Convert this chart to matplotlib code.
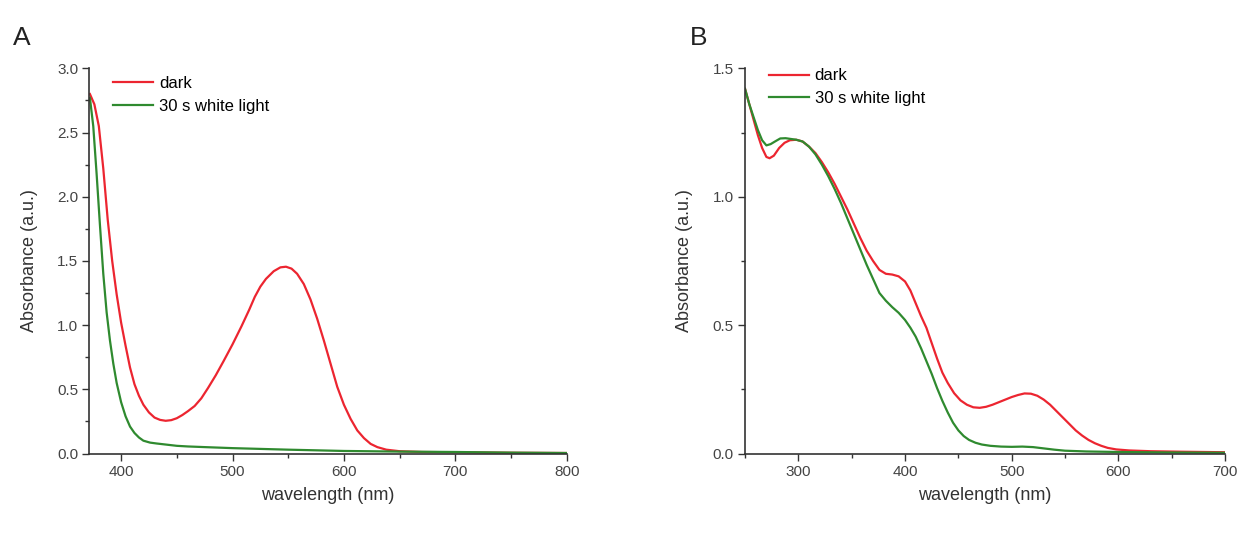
import numpy as np
import matplotlib.pyplot as plt
from matplotlib.ticker import MultipleLocator

plt.rcParams['font.family'] = ['Liberation Sans', 'DejaVu Sans']

# Panel A
wl_a_dark = [372, 376, 380, 384, 388, 392, 396, 400, 404, 408, 412, 416, 420, 425, 430,
             435, 440, 445, 450, 455, 460, 466, 472, 478, 485, 492, 500, 508, 515, 520,
             525, 530, 537, 543, 548, 553, 558, 564, 570, 576, 582, 588, 594, 600, 606,
             612, 618, 624, 630, 638, 650, 670, 700, 750, 800]
abs_a_dark = [2.80, 2.72, 2.55, 2.22, 1.82, 1.50, 1.24, 1.02, 0.84, 0.67, 0.54, 0.45,
              0.38, 0.32, 0.28, 0.262, 0.255, 0.26, 0.275, 0.30, 0.33, 0.37, 0.43, 0.51,
              0.61, 0.72, 0.85, 0.99, 1.12, 1.22, 1.30, 1.36, 1.42, 1.45, 1.455, 1.44,
              1.40, 1.32, 1.20, 1.05, 0.88, 0.70, 0.52, 0.38, 0.27, 0.18, 0.12, 0.075,
              0.05, 0.03, 0.018, 0.012, 0.01, 0.006, 0.004]
wl_a_light = [372, 375, 378, 381, 384, 387, 390, 393, 396, 400, 404, 408, 412, 416, 420,
              426, 432, 440, 450, 460, 475, 500, 525, 550, 575, 600, 650, 700, 750, 800]
abs_a_light = [2.77, 2.55, 2.18, 1.78, 1.40, 1.10, 0.88, 0.70, 0.55, 0.40, 0.29, 0.21,
               0.16, 0.125, 0.10, 0.085, 0.078, 0.07, 0.06, 0.055, 0.05, 0.042, 0.036,
               0.03, 0.025, 0.02, 0.015, 0.012, 0.007, 0.004]

# Panel B
wl_b_dark = [250, 254, 258, 262, 266, 270, 273, 277, 282, 287, 292, 298, 304, 310, 316,
             322, 328, 334, 340, 346, 352, 358, 364, 370, 376, 382, 388, 394, 400, 405,
             410, 415, 420, 425, 430, 435, 440, 446, 452, 458, 464, 470, 476, 482, 488,
             494, 500, 506, 512, 518, 524, 530, 536, 542, 548, 554, 560, 566, 572, 578,
             584, 590, 598, 610, 630, 660, 700]
abs_b_dark = [1.42, 1.36, 1.30, 1.24, 1.19, 1.155, 1.15, 1.16, 1.19, 1.21, 1.22, 1.222,
              1.215, 1.195, 1.17, 1.135, 1.095, 1.05, 1.0, 0.95, 0.895, 0.84, 0.79, 0.75,
              0.715, 0.70, 0.697, 0.69, 0.67, 0.635, 0.585, 0.535, 0.49, 0.43, 0.37,
              0.315, 0.275, 0.235, 0.207, 0.19, 0.18, 0.178, 0.182, 0.19, 0.20, 0.21,
              0.22, 0.228, 0.234, 0.233, 0.225, 0.21, 0.19, 0.165, 0.14, 0.115, 0.09,
              0.07, 0.053, 0.04, 0.03, 0.022, 0.016, 0.012, 0.009, 0.007, 0.005]
wl_b_light = [250, 254, 258, 262, 266, 270, 274, 278, 283, 288, 293, 298, 304, 310, 316,
              322, 328, 334, 340, 346, 352, 358, 364, 370, 376, 382, 388, 394, 400, 405,
              410, 415, 420, 425, 430, 435, 440, 445, 450, 455, 460, 466, 472, 480, 490,
              500, 510, 520, 530, 540, 550, 570, 600, 650, 700]
abs_b_light = [1.42, 1.36, 1.31, 1.26, 1.22, 1.20, 1.205, 1.215, 1.227, 1.228, 1.225,
               1.222, 1.215, 1.195, 1.165, 1.125, 1.08, 1.03, 0.975, 0.915, 0.855, 0.795,
               0.735, 0.68, 0.625, 0.595, 0.57, 0.548, 0.52, 0.49, 0.455, 0.41, 0.36,
               0.31, 0.255, 0.205, 0.16, 0.12, 0.09, 0.068, 0.053, 0.042, 0.035, 0.03,
               0.027, 0.026, 0.027, 0.025, 0.02, 0.015, 0.011, 0.008, 0.006, 0.004, 0.003]

red = '#ec2530'
green = '#2f8a2f'

fig = plt.figure(figsize=(12.48, 5.34), dpi=100)
ax_a = fig.add_axes([0.0716, 0.1507, 0.3825, 0.7213])
ax_b = fig.add_axes([0.5970, 0.1507, 0.3846, 0.7213])

panels = [
    (ax_a, wl_a_dark, abs_a_dark, wl_a_light, abs_a_light, (371.5, 800), (0, 3.0),
     'A', 13, (0.025, 1.01)),
    (ax_b, wl_b_dark, abs_b_dark, wl_b_light, abs_b_light, (250, 700), (0, 1.5),
     'B', 690, (0.025, 1.03)),
]

for ax, xd, yd, xl, yl, xlim, ylim, letter, lx, anchor in panels:
    ax.plot(xd, yd, color=red, lw=1.6, label='dark')
    ax.plot(xl, yl, color=green, lw=1.6, label='30 s white light')
    ax.set_xlim(*xlim)
    ax.set_ylim(*ylim)
    ax.xaxis.set_major_locator(MultipleLocator(100))
    ax.xaxis.set_minor_locator(MultipleLocator(50))
    ax.yaxis.set_major_locator(MultipleLocator(0.5))
    ax.yaxis.set_minor_locator(MultipleLocator(0.25))
    ax.yaxis.set_major_formatter(plt.FormatStrFormatter('%.1f'))
    for s in ['top', 'right']:
        ax.spines[s].set_visible(False)
    for s in ['left', 'bottom']:
        ax.spines[s].set_color('#333333')
        ax.spines[s].set_linewidth(1.2)
    ax.tick_params(which='major', direction='out', length=5, width=1, colors='#333333',
                   labelsize=11, labelcolor='#444444', pad=3)
    ax.tick_params(which='minor', direction='out', length=3, width=1, colors='#333333')
    ax.set_xlabel('wavelength (nm)', fontsize=13, color='#333333', labelpad=6)
    ax.set_ylabel('Absorbance (a.u.)', fontsize=13, color='#333333', labelpad=14)
    ax.legend(loc='upper left', frameon=False, fontsize=12, handlelength=2.4,
              handletextpad=0.35, labelspacing=0.45, borderaxespad=0.3,
              bbox_to_anchor=anchor)
    fig.text(lx / 1248, 1 - 45 / 534, letter, fontsize=19, color='#222222')

fig.savefig('out.png', dpi=100)
